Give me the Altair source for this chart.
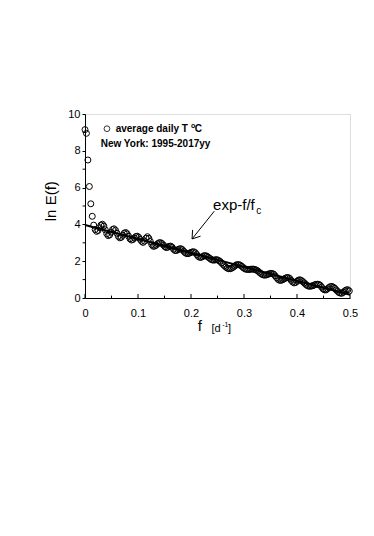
import altair as alt
import pandas as pd

# ---- data ----
N_DAYS = 365  # frequency grid step is 1/365 d^-1
ln_E = [
    9.15, 8.95, 7.50, 6.06, 5.12, 4.44, 3.96, 3.72, 3.62, 3.67,
    3.82, 3.96, 4.01, 3.91, 3.70, 3.49, 3.39, 3.43, 3.58, 3.72,
    3.76, 3.68, 3.52, 3.35, 3.27, 3.30, 3.41, 3.52, 3.56, 3.49,
    3.36, 3.22, 3.15, 3.18, 3.26, 3.34, 3.36, 3.30, 3.19, 3.08,
    3.02, 3.09, 3.25, 3.33, 3.24, 3.07, 2.90, 2.81, 2.82, 2.87,
    2.95, 3.00, 3.01, 2.96, 2.88, 2.79, 2.74, 2.76, 2.81, 2.82,
    2.76, 2.65, 2.58, 2.58, 2.63, 2.67, 2.68, 2.63, 2.54, 2.46,
    2.41, 2.41, 2.44, 2.48, 2.51, 2.51, 2.46, 2.36, 2.26, 2.21,
    2.21, 2.25, 2.30, 2.30, 2.27, 2.21, 2.15, 2.09, 2.06, 2.06,
    2.08, 2.08, 2.04, 1.99, 1.91, 1.83, 1.75, 1.68, 1.62, 1.59,
    1.59, 1.62, 1.67, 1.73, 1.79, 1.82, 1.81, 1.78, 1.72, 1.65,
    1.59, 1.56, 1.55, 1.55, 1.56, 1.57, 1.57, 1.55, 1.52, 1.47,
    1.40, 1.34, 1.28, 1.25, 1.24, 1.26, 1.29, 1.32, 1.34, 1.33,
    1.29, 1.20, 1.10, 1.01, 0.96, 0.96, 0.99, 1.03, 1.08, 1.11,
    1.11, 1.06, 0.96, 0.87, 0.82, 0.84, 0.91, 0.97, 0.99, 0.95,
    0.89, 0.82, 0.74, 0.68, 0.64, 0.64, 0.65, 0.67, 0.71, 0.74,
    0.75, 0.74, 0.69, 0.59, 0.49, 0.44, 0.44, 0.50, 0.57, 0.62,
    0.63, 0.59, 0.53, 0.44, 0.36, 0.29, 0.26, 0.26, 0.32, 0.39,
    0.44, 0.45, 0.38,
]
freq = [k / N_DAYS for k in range(len(ln_E))]

fit_f = [0.0, 0.5]
fit_lnE = [3.97, 0.17]

x_major = [0, 0.1, 0.2, 0.3, 0.4, 0.5]
x_minor = [0.05, 0.15, 0.25, 0.35, 0.45]
y_major = [0, 2, 4, 6, 8, 10]
y_minor = [1, 3, 5, 7, 9]

# annotation anchors (data units)
legend_mark = pd.DataFrame({"f": [0.0414], "v": [9.2]})
texts_bold10 = pd.DataFrame({
    "f": [0.0578, 0.2072, 0.0296],
    "v": [9.18, 9.18, 8.39],
    "t": ["average daily T", "C", "New York: 1995-2017yy"],
})
sup_o = pd.DataFrame({"f": [0.2002], "v": [9.36], "t": ["o"]})
exp_txt = pd.DataFrame({"f": [0.2416], "v": [5.07], "t": ["exp-f/f"]})
sub_c = pd.DataFrame({"f": [0.3230], "v": [4.72], "t": ["c"]})
arrow = pd.DataFrame({
    "f": [0.244, 0.202, 0.202],
    "v": [4.72, 3.21, 3.21],
    "f2": [0.202, 0.218, 0.203],
    "v2": [3.21, 3.36, 3.70],
})
ytitle = pd.DataFrame({"f": [-0.065], "v": [5.26], "t": ["ln E(f)"]})
xtitle_big = pd.DataFrame({"f": [0.2166], "v": [-1.80], "t": ["f"]})
xtitle_small = pd.DataFrame({"f": [0.2386, 0.2700], "v": [-1.83, -1.83], "t": ["[d", "]"]})
xtitle_sup = pd.DataFrame({"f": [0.2590], "v": [-1.58], "t": ["-1"]})

FONT = "Liberation Sans"

xs = alt.Scale(domain=[0, 0.5], nice=False)
ys = alt.Scale(domain=[0, 10], nice=False)

pts_df = pd.DataFrame({"f": freq, "v": ln_E})
fit_df = pd.DataFrame({"f": fit_f, "v": fit_lnE})

x_axis = alt.Axis(values=x_major, ticks=False, tickSize=0, labelPadding=9,
                  labelFlush=False, labelOverlap=False,
                  labelExpr="datum.value == 0 ? '0' : format(datum.value, '.1f')",
                  grid=False, domainColor="black", domainWidth=1,
                  labelFont=FONT, labelFontSize=11, labelColor="black")
y_axis = alt.Axis(values=y_major, tickSize=3, tickColor="black", labelPadding=2,
                  labelFlush=False, labelOverlap=False, format="d",
                  grid=False, domainColor="black", domainWidth=1,
                  labelFont=FONT, labelFontSize=11, labelColor="black")

X = alt.X("f:Q", scale=xs, title=None, axis=x_axis)
Y = alt.Y("v:Q", scale=ys, title=None, axis=y_axis)

points = alt.Chart(pts_df).mark_point(
    shape="circle", filled=False, size=36, color="black", strokeWidth=1.0, opacity=1
).encode(x=X, y=Y)

fit = alt.Chart(fit_df).mark_line(color="black", strokeWidth=2).encode(x=X, y=Y)

tick_major = alt.Chart(pd.DataFrame({"f": x_major, "v": [0] * 6, "v2": [0.22] * 6})).mark_rule(
    color="black", strokeWidth=1).encode(x=X, y=Y, y2="v2:Q")
tick_minor = alt.Chart(pd.DataFrame({"f": x_minor, "v": [0] * 5, "v2": [0.13] * 5})).mark_rule(
    color="black", strokeWidth=1).encode(x=X, y=Y, y2="v2:Q")
ytick_minor = alt.Chart(pd.DataFrame({"v": y_minor, "f": [-0.0045] * 5, "f2": [0.0] * 5})).mark_rule(
    color="black", strokeWidth=1).encode(x=X, y=Y, x2="f2:Q")

leg_pt = alt.Chart(legend_mark).mark_point(
    shape="circle", filled=False, size=33, color="black", strokeWidth=0.8, opacity=1
).encode(x=X, y=Y)

def txt(df, size, weight="normal", align="left", baseline="middle", angle=0):
    kw = dict(font=FONT, fontSize=size, fontWeight=weight, align=align,
              baseline=baseline, color="black")
    if angle:
        kw["angle"] = angle
    return alt.Chart(df).mark_text(**kw).encode(x=X, y=Y, text="t:N")

arrow_layer = alt.Chart(arrow).mark_rule(color="black", strokeWidth=1).encode(
    x=X, y=Y, x2="f2:Q", y2="v2:Q")

chart = alt.layer(
    points, fit, tick_major, tick_minor, ytick_minor, leg_pt,
    txt(texts_bold10, 10, "bold"),
    txt(sup_o, 7, "bold"),
    txt(exp_txt, 15),
    txt(sub_c, 10),
    arrow_layer,
    txt(ytitle, 15, align="center", angle=270),
    txt(xtitle_big, 15, align="center", baseline="alphabetic"),
    txt(xtitle_small, 11, baseline="alphabetic"),
    txt(xtitle_sup, 7, baseline="alphabetic"),
).properties(
    width=265, height=184,
    autosize=alt.AutoSizeParams(type="none"),
    padding={"left": 77, "top": 106, "right": 10, "bottom": 70},
).configure_view(stroke=None).configure_axis(labelOverlap=False).configure(background="white")

chart.save("out.html", embed_options={"renderer": "svg", "actions": False})
